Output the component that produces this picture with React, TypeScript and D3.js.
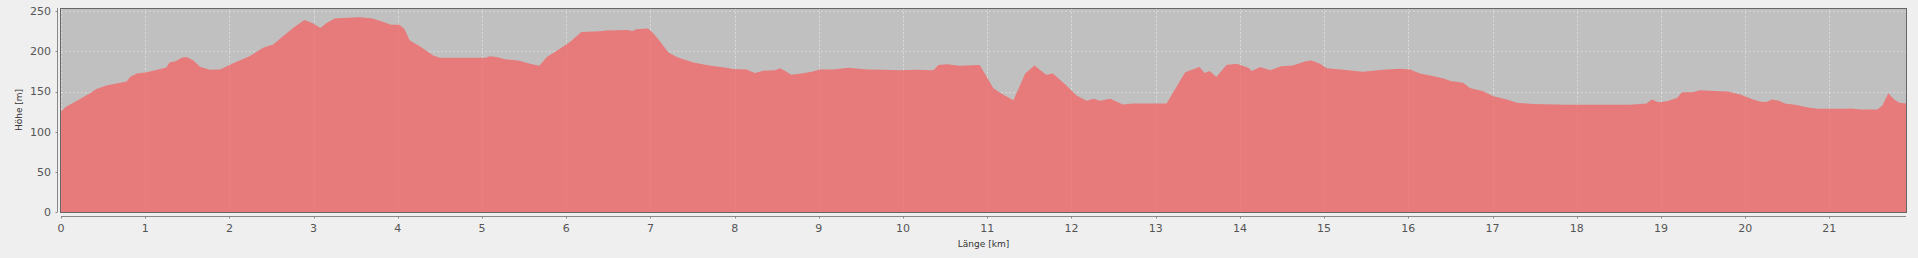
import React from "react";
import * as d3 from "d3";

const distanceKm = [
  0, 0.06, 0.18, 0.34, 0.42, 0.54, 0.66, 0.78, 0.82, 0.9, 1.02, 1.13, 1.25, 1.29, 1.37, 1.43, 1.49, 1.57, 1.65, 1.77,
  1.89, 2.0, 2.12, 2.24, 2.4, 2.52, 2.64, 2.76, 2.89, 2.99, 3.08, 3.15, 3.25, 3.39, 3.55, 3.7, 3.82, 3.92, 4.02, 4.08,
  4.14, 4.26, 4.42, 4.5, 4.81, 5.05, 5.09, 5.17, 5.29, 5.43, 5.57, 5.68, 5.77, 5.92, 6.04, 6.18, 6.4, 6.48, 6.72, 6.79,
  6.83, 6.97, 7.03, 7.11, 7.21, 7.31, 7.51, 7.7, 7.9, 7.98, 8.14, 8.24, 8.34, 8.48, 8.54, 8.6, 8.67, 8.77, 8.83, 8.93,
  9.01, 9.17, 9.35, 9.57, 9.76, 9.96, 10.16, 10.36, 10.42, 10.52, 10.67, 10.91, 10.99, 11.07, 11.15, 11.31, 11.45, 11.56, 11.7, 11.78,
  11.94, 12.06, 12.18, 12.26, 12.34, 12.46, 12.61, 12.73, 13.13, 13.25, 13.35, 13.52, 13.58, 13.64, 13.72, 13.84, 13.96, 14.1, 14.14, 14.24,
  14.36, 14.49, 14.63, 14.77, 14.85, 14.95, 15.03, 15.23, 15.46, 15.7, 15.9, 16.02, 16.14, 16.3, 16.43, 16.5, 16.65, 16.73, 16.89, 17.01,
  17.17, 17.29, 17.48, 17.88, 18.27, 18.63, 18.83, 18.89, 18.97, 19.07, 19.19, 19.25, 19.38, 19.46, 19.7, 19.79, 19.95, 20.07, 20.17, 20.25,
  20.32, 20.4, 20.47, 20.59, 20.75, 20.87, 21.18, 21.26, 21.38, 21.57, 21.63, 21.7, 21.77, 21.83, 21.91,
];

const elevationM = [
  125, 131, 138, 147.5, 153, 157.5, 160, 162.5, 168, 172.5, 174, 176.7, 180, 186, 188, 192, 193, 189, 181, 177,
  177.5, 183, 188.5, 194, 204.5, 208.5, 219, 229.5, 239, 235, 229, 235, 241, 242, 242.5, 241, 237, 233, 233, 227.5,
  214, 206.5, 195, 192, 192, 192, 194, 193, 190, 188.5, 184.5, 182, 193, 203, 211.5, 224, 225, 226, 226.5, 225.5,
  227.5, 228.5, 223, 213, 199, 193, 186, 182.5, 179.5, 178, 177.5, 173, 176, 176.5, 179, 175.5, 171, 172, 173, 175,
  177.5, 177.5, 179.5, 177.5, 177, 176.5, 177, 176.5, 183, 184, 182, 183, 169, 154.5, 148.5, 139, 172.5, 182.5, 171, 172.5,
  157.5, 145, 138.5, 141, 138.5, 141, 134, 135, 135, 156.5, 174, 180.5, 173, 175.5, 168, 183, 184.5, 179.5, 175.5, 180.5,
  176.5, 181.5, 182.5, 187.5, 188.5, 184.5, 179, 177, 174.5, 177, 178.5, 177.5, 172.5, 169, 166, 163, 161, 154.5, 150.5, 144,
  140, 136, 134.5, 133.5, 133.5, 133.5, 135, 140, 136.5, 138, 142, 149, 149, 151.5, 150.5, 150, 146, 141, 137.5, 137,
  140, 138.5, 135, 133.5, 130, 128.5, 128.5, 129, 127.5, 127.5, 132.5, 148, 140, 136, 135,
];

const xTickValues = d3.range(0, 22, 1);
const yTickValues = [0, 50, 100, 150, 200, 250];
const xTitle = "Länge [km]";
const yTitle = "Höhe [m]";

const W = 1918;
const H = 258;
const plot = { left: 61, right: 1906, top: 8, bottom: 212 };

export default function App() {
  const x = d3.scaleLinear().domain([0, 21.91]).range([plot.left, plot.right]);
  const y = d3.scaleLinear().domain([0, 254]).range([plot.bottom, plot.top]);

  const pts = distanceKm.map((d, i) => [d, elevationM[i]] as [number, number]);
  const area = d3
    .area<[number, number]>()
    .x((d) => x(d[0]))
    .y0(y(0))
    .y1((d) => y(d[1]))(pts) as string;

  const font = "'DejaVu Sans', sans-serif";
  const axisY = 57.5;
  const axisX = 216.5;

  return (
    <svg
      width={W}
      height={H}
      style={{ position: "fixed", left: 0, top: 0, display: "block" }}
    >
      <rect x={0} y={0} width={W} height={H} fill="#efefef" />
      <rect
        x={plot.left}
        y={plot.top}
        width={plot.right - plot.left}
        height={plot.bottom - plot.top}
        fill="#c0c0c0"
      />
      {yTickValues.map((t) => (
        <line
          key={"gy" + t}
          x1={plot.left}
          x2={plot.right}
          y1={Math.round(y(t)) + 0.5}
          y2={Math.round(y(t)) + 0.5}
          stroke="#ffffff"
          strokeOpacity={0.35}
          strokeDasharray="2,2"
        />
      ))}
      {xTickValues.map((t) => (
        <line
          key={"gx" + t}
          x1={Math.round(x(t)) + 0.5}
          x2={Math.round(x(t)) + 0.5}
          y1={plot.top}
          y2={plot.bottom}
          stroke="#ffffff"
          strokeOpacity={0.35}
          strokeDasharray="2,2"
        />
      ))}
      <path d={area} fill="#e77a7a" />
      {xTickValues.map((t) => (
        <line
          key={"gx2" + t}
          x1={Math.round(x(t)) + 0.5}
          x2={Math.round(x(t)) + 0.5}
          y1={plot.top}
          y2={plot.bottom}
          stroke="#ffffff"
          strokeOpacity={0.05}
        />
      ))}
      <rect
        x={plot.left - 0.5}
        y={plot.top + 0.5}
        width={plot.right - plot.left + 1}
        height={plot.bottom - plot.top}
        fill="none"
        stroke="#666"
        strokeWidth={1}
      />
      <line x1={axisY} x2={axisY} y1={plot.top} y2={plot.bottom} stroke="#888" />
      {yTickValues.map((t) => (
        <g key={"ty" + t}>
          <line x1={axisY - 2} x2={axisY} y1={Math.round(y(t)) + 0.5} y2={Math.round(y(t)) + 0.5} stroke="#888" />
          <text
            x={51}
            y={y(t)}
            dy="0.36em"
            textAnchor="end"
            fontFamily={font}
            fontSize={11}
            fill="#555"
          >
            {t}
          </text>
        </g>
      ))}
      <line x1={plot.left} x2={plot.right} y1={axisX} y2={axisX} stroke="#888" />
      {xTickValues.map((t) => (
        <g key={"tx" + t}>
          <line
            x1={Math.round(x(t)) + 0.5}
            x2={Math.round(x(t)) + 0.5}
            y1={axisX}
            y2={axisX + 2}
            stroke="#888"
          />
          <text
            x={x(t)}
            y={228}
            dy="0.36em"
            textAnchor="middle"
            fontFamily={font}
            fontSize={11}
            fill="#555"
          >
            {t}
          </text>
        </g>
      ))}
      <text
        x={(plot.left + plot.right) / 2}
        y={244}
        dy="0.36em"
        textAnchor="middle"
        fontFamily={font}
        fontSize={9}
        fill="#333"
      >
        {xTitle}
      </text>
      <text
        transform={`translate(19, ${(plot.top + plot.bottom) / 2}) rotate(-90)`}
        dy="0.36em"
        textAnchor="middle"
        fontFamily={font}
        fontSize={9}
        fill="#333"
      >
        {yTitle}
      </text>
    </svg>
  );
}
